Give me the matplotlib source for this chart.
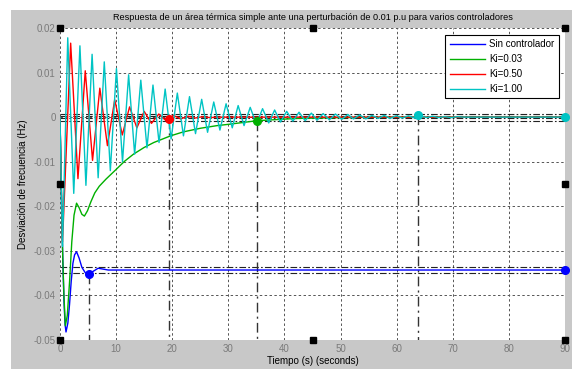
import matplotlib
matplotlib.use("Agg")
import matplotlib.pyplot as plt
from matplotlib.patches import Rectangle

# ---------------- data ----------------
labels = ["Sin controlador", "Ki=0.03", "Ki=0.50", "Ki=1.00"]
colors = ["#0000ff", "#00b000", "#ff0000", "#00c4c4"]

t_sin = [0, 0.15, 0.3, 0.5, 0.7, 0.9, 1.07, 1.4, 1.7, 2.0, 2.3, 2.6, 2.95, 3.4,
         3.9, 4.5, 5.2, 5.9, 6.8, 7.7, 8.6, 90]
v_sin = [0, -0.011, -0.021, -0.032, -0.041, -0.0465, -0.0482, -0.0462, -0.042,
         -0.0368, -0.0328, -0.0309, -0.0302, -0.0316, -0.0337, -0.0349, -0.0351,
         -0.0346, -0.0339, -0.0341, -0.0343, -0.0343]

t_k003 = [0, 0.15, 0.3, 0.5, 0.7, 0.95, 1.3, 1.7, 2.1, 2.5, 2.95, 3.4, 3.9, 4.35,
          4.9, 5.5, 6.2, 7.0, 8.2, 9.7, 11.5, 13.1, 15, 16.7, 19.7, 22, 25, 28,
          30.1, 35.1, 42, 50, 60, 90]
v_k003 = [0, -0.011, -0.021, -0.032, -0.040, -0.0468, -0.0445, -0.037, -0.028,
          -0.022, -0.0193, -0.0203, -0.0218, -0.0222, -0.0210, -0.0190, -0.0170,
          -0.0155, -0.0139, -0.0121, -0.0099, -0.0083, -0.0068, -0.0057, -0.0042,
          -0.0033, -0.0025, -0.0019, -0.0016, -0.0008, -0.0003, -0.0001, 0, 0]

t_k050 = [0, 0.45, 1.9, 3.2, 4.5, 5.8, 7.1, 8.45, 9.75, 11.1, 12.4, 13.7, 15.0,
          16.3, 17.6, 18.9, 20.2, 21.5, 22.8, 24.1, 25.4, 26.7, 28, 90]
v_k050 = [0, -0.028, 0.0166, -0.0138, 0.0104, -0.0097, 0.0065, -0.0064, 0.0039,
          -0.0040, 0.0023, -0.0024, 0.0013, -0.0014, 0.0007, -0.0008, 0.0004,
          -0.0004, 0.0002, -0.0002, 0.0001, -0.0001, 0, 0]

t_k100 = [0, 0.45, 1.38, 2.45, 3.55, 4.62, 5.72, 6.8, 7.89, 8.97, 10.06, 11.14,
          12.23, 13.3, 14.4, 15.5, 16.57, 17.65, 18.74, 19.8, 20.91, 22.0, 23.08,
          24.15, 25.25, 26.3, 27.4, 28.5, 29.6, 30.7, 31.75, 32.8, 33.9, 35.0,
          36.1, 37.2, 38.25, 39.3, 40.4, 41.5, 42.6, 43.7, 44.8, 45.8, 46.9, 48.0,
          49.1, 50.2, 51.3, 52.3, 53.4, 54.5, 55.6, 56.7, 57.8, 58.8, 59.9, 61.0,
          62.1, 63.2, 64.3, 65.4, 66.4, 67.5, 68.6, 69.7, 70.8, 72, 90]
v_k100 = [0, -0.029, 0.0178, -0.0171, 0.0160, -0.0153, 0.0141, -0.0136, 0.0124,
          -0.0120, 0.0109, -0.0100, 0.0095, -0.0083, 0.0083, -0.0069, 0.0072,
          -0.0057, 0.0063, -0.0049, 0.0054, -0.0042, 0.0046, -0.0037, 0.0040,
          -0.0034, 0.0034, -0.0029, 0.0030, -0.0024, 0.0026, -0.0019, 0.0022,
          -0.0016, 0.0019, -0.0013, 0.0016, -0.0011, 0.0013, -0.0009, 0.0011,
          -0.0008, 0.0009, -0.0007, 0.0008, -0.0006, 0.0007, -0.0005, 0.0006,
          -0.0004, 0.0005, -0.0004, 0.0004, -0.0003, 0.0004, -0.0003, 0.0003,
          -0.0002, 0.0003, -0.0002, 0.0002, -0.0001, 0.0002, -0.0001, 0.0001,
          -0.0001, 0.0001, 0, 0]

# settling-time markers (time, value) per series
settle_t = [5.25, 35.1, 19.4, 63.8]
settle_v = [-0.0351, -0.0008, -0.0004, 0.00045]
# steady-state markers at the right edge
final_t = [90, 90]
final_v = [-0.0343, 0.0]
final_colors = ["#0000ff", "#00c4c4"]
# settling band lines
band_levels = [-0.0336, -0.0350, 0.0008, 0.0003, -0.0003, -0.0008]

xticks = [0, 10, 20, 30, 40, 50, 60, 70, 80, 90]
yticks = [-0.05, -0.04, -0.03, -0.02, -0.01, 0, 0.01, 0.02]
ytick_labels = ["-0.05", "-0.04", "-0.03", "-0.02", "-0.01", "0", "0.01", "0.02"]

title = "Respuesta de un área térmica simple ante una perturbación de 0.01 p.u para varios controladores"
xlabel = "Tiempo (s) (seconds)"
ylabel = "Desviación de frecuencia (Hz)"

# ---------------- figure ----------------
plt.rcParams['font.family'] = ['Liberation Sans', 'DejaVu Sans']
fig = plt.figure(figsize=(5.76, 3.69), dpi=100, facecolor="white")
fig.patches.append(Rectangle((11 / 576, 0), 561 / 576, 359 / 369,
                             transform=fig.transFigure, facecolor="#c8c8c8",
                             edgecolor="none", zorder=-10))

ax = fig.add_axes([60 / 576, 29 / 369, 505 / 576, 312 / 369])
ax.set_facecolor("white")
for s in ax.spines.values():
    s.set_visible(False)

ax.set_xlim(0, 90)
ax.set_ylim(-0.05, 0.02)
ax.set_xticks(xticks)
ax.set_yticks(yticks)
ax.set_yticklabels(ytick_labels)
ax.tick_params(length=0, pad=3, labelsize=7, colors="#7a7a7a")
ax.grid(True, color="#555555", linestyle=(0, (2.5, 2.5)), linewidth=0.7)
ax.set_axisbelow(True)

# band lines
for lv in band_levels:
    ax.axhline(lv, color="#222222", linestyle=(0, (6, 2, 1.5, 2)), linewidth=0.8, zorder=2)

series = [(t_sin, v_sin), (t_k003, v_k003), (t_k050, v_k050), (t_k100, v_k100)]
handles = []
for (tt, vv), c, lab in zip(series, colors, labels):
    h, = ax.plot(tt, vv, color=c, linewidth=1.0, label=lab, zorder=3)
    handles.append(h)

# settling vertical lines and markers
for st, sv, c in zip(settle_t, settle_v, colors):
    ax.plot([st, st], [sv, -0.05], color="#333333", linestyle=(0, (7, 3, 1.5, 3)),
            linewidth=1.0, zorder=2.5)
    ax.plot([st], [sv], "o", color=c, markersize=5.5, zorder=5, clip_on=False)
for ft, fv, c in zip(final_t, final_v, final_colors):
    ax.plot([ft], [fv], "o", color=c, markersize=5.5, zorder=5, clip_on=False)

# selection handles
for hx, hy in [(0, 0), (0.5, 0), (1, 0), (0, 1), (0.5, 1), (1, 1), (0, 0.5), (1, 0.5)]:
    ax.plot([hx], [hy], "s", color="black", markersize=4.5, transform=ax.transAxes,
            clip_on=False, zorder=10)

ax.set_title(title, fontsize=6.6, color="black", pad=6)
ax.set_xlabel(xlabel, fontsize=7, color="black", labelpad=1)
ax.set_ylabel(ylabel, fontsize=7, color="black", labelpad=4)

leg = ax.legend(handles=handles, loc="upper right",
                bbox_to_anchor=((559 - 60) / 505, (340 - 35) / 312),
                borderaxespad=0, fontsize=7, frameon=True, fancybox=False,
                edgecolor="black", framealpha=1, handlelength=3.6,
                labelspacing=0.5, borderpad=0.45, handletextpad=0.5)
leg.get_frame().set_linewidth(0.8)
leg.set_zorder(20)

fig.savefig("out.png", dpi=100, facecolor=fig.get_facecolor())
